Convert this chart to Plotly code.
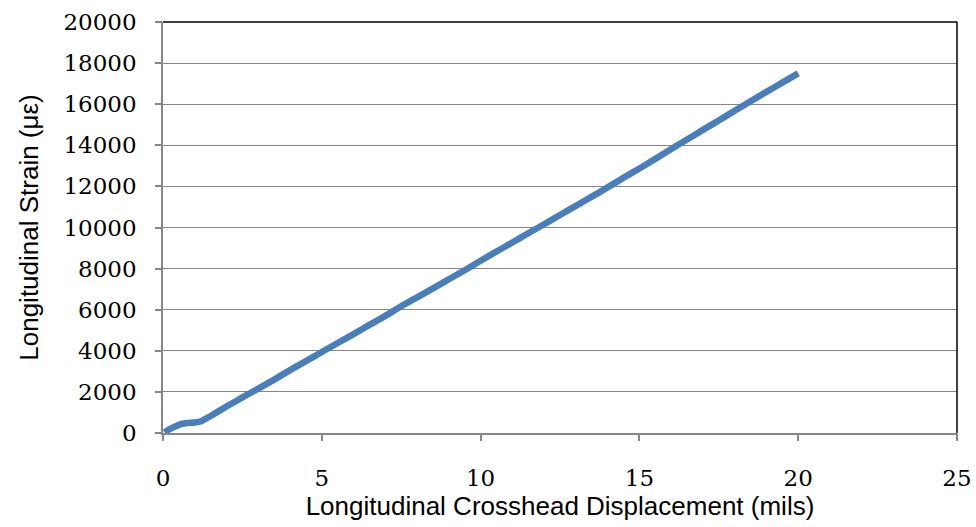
import plotly.graph_objects as go

# Crosshead displacement (mils) and measured longitudinal strain (microstrain)
displacement = [0.05, 0.2, 0.4, 0.6, 0.8, 1.0, 1.2, 1.5, 2.0, 2.5, 3.0, 3.5, 4.0, 4.5,
                5.0, 5.5, 6.0, 6.5, 7.0, 7.5, 8.0, 8.5, 9.0, 9.5, 10.0, 10.5, 11.0,
                11.5, 12.0, 12.5, 13.0, 13.5, 14.0, 14.5, 15.0, 15.5, 16.0, 16.5,
                17.0, 17.5, 18.0, 18.5, 19.0, 19.5, 20.0]
strain = [30, 180, 330, 450, 490, 515, 570, 830, 1290, 1730, 2160, 2600, 3060, 3500,
          3940, 4380, 4810, 5260, 5700, 6170, 6600, 7040, 7480, 7920, 8380, 8830, 9270,
          9720, 10160, 10610, 11050, 11500, 11950, 12420, 12870, 13340, 13820, 14280,
          14750, 15210, 15680, 16140, 16600, 17050, 17500]

x_ticks = [0, 5, 10, 15, 20, 25]
y_ticks = list(range(0, 20001, 2000))
y_labels = [str(v) for v in y_ticks]

AXIS_GRAY = "#868686"
TICK_FONT = dict(family="DejaVu Serif", size=23, color="#000000")
TITLE_FONT = dict(family="Liberation Sans, Arial", size=26, color="#000000")

fig = go.Figure()
fig.add_trace(go.Scatter(
    x=displacement, y=strain, mode="lines",
    line=dict(color="#4A7EBB", width=6.5, shape="spline", smoothing=0.6),
    showlegend=False,
))
# empty trace so the overlay axes (short visible tick marks) get drawn
fig.add_trace(go.Scatter(x=[None], y=[None], xaxis="x2", yaxis="y2",
                         showlegend=False, hoverinfo="skip"))

fig.update_layout(
    width=976, height=527,
    margin=dict(l=163, r=19, t=22, b=94, autoexpand=False),
    paper_bgcolor="white", plot_bgcolor="white",
    # labelled axes: long transparent ticks push the labels away from the frame
    xaxis=dict(
        range=[0, 25], tickvals=x_ticks, ticks="outside", ticklen=24,
        tickcolor="rgba(0,0,0,0)", showline=True, linecolor=AXIS_GRAY, linewidth=1.5,
        showgrid=False, zeroline=False, tickfont=TICK_FONT, automargin=False,
        title=dict(text="Longitudinal Crosshead Displacement (mils)",
                   font=TITLE_FONT, standoff=4),
    ),
    yaxis=dict(
        range=[0, 20000], tickvals=y_ticks, ticktext=y_labels, ticks="outside",
        ticklen=20, tickcolor="rgba(0,0,0,0)", showline=True, linecolor=AXIS_GRAY,
        linewidth=1.5, showgrid=True, gridcolor=AXIS_GRAY, gridwidth=1,
        zeroline=False, tickfont=TICK_FONT, automargin=False,
        title=dict(text="Longitudinal Strain (με)", font=TITLE_FONT, standoff=17),
    ),
    # overlay axes carrying the short gray tick marks
    xaxis2=dict(
        overlaying="x", anchor="y", side="bottom", range=[0, 25], tickvals=x_ticks,
        ticks="outside", ticklen=7, tickcolor=AXIS_GRAY, tickwidth=1.5,
        showticklabels=False, showgrid=False, zeroline=False, showline=False,
        automargin=False,
    ),
    yaxis2=dict(
        overlaying="y", anchor="x", side="left", range=[0, 20000], tickvals=y_ticks,
        ticks="outside", ticklen=7, tickcolor=AXIS_GRAY, tickwidth=1.5,
        showticklabels=False, showgrid=False, zeroline=False, showline=False,
        automargin=False,
    ),
)

# dark frame along the top and right edges of the plotting area
fig.add_shape(type="line", xref="paper", yref="paper", x0=0, x1=1, y0=1, y1=1,
              line=dict(color="#000000", width=1.5))
fig.add_shape(type="line", xref="paper", yref="paper", x0=1, x1=1, y0=0, y1=1,
              line=dict(color="#000000", width=1.5))

fig.write_html("out.html")
